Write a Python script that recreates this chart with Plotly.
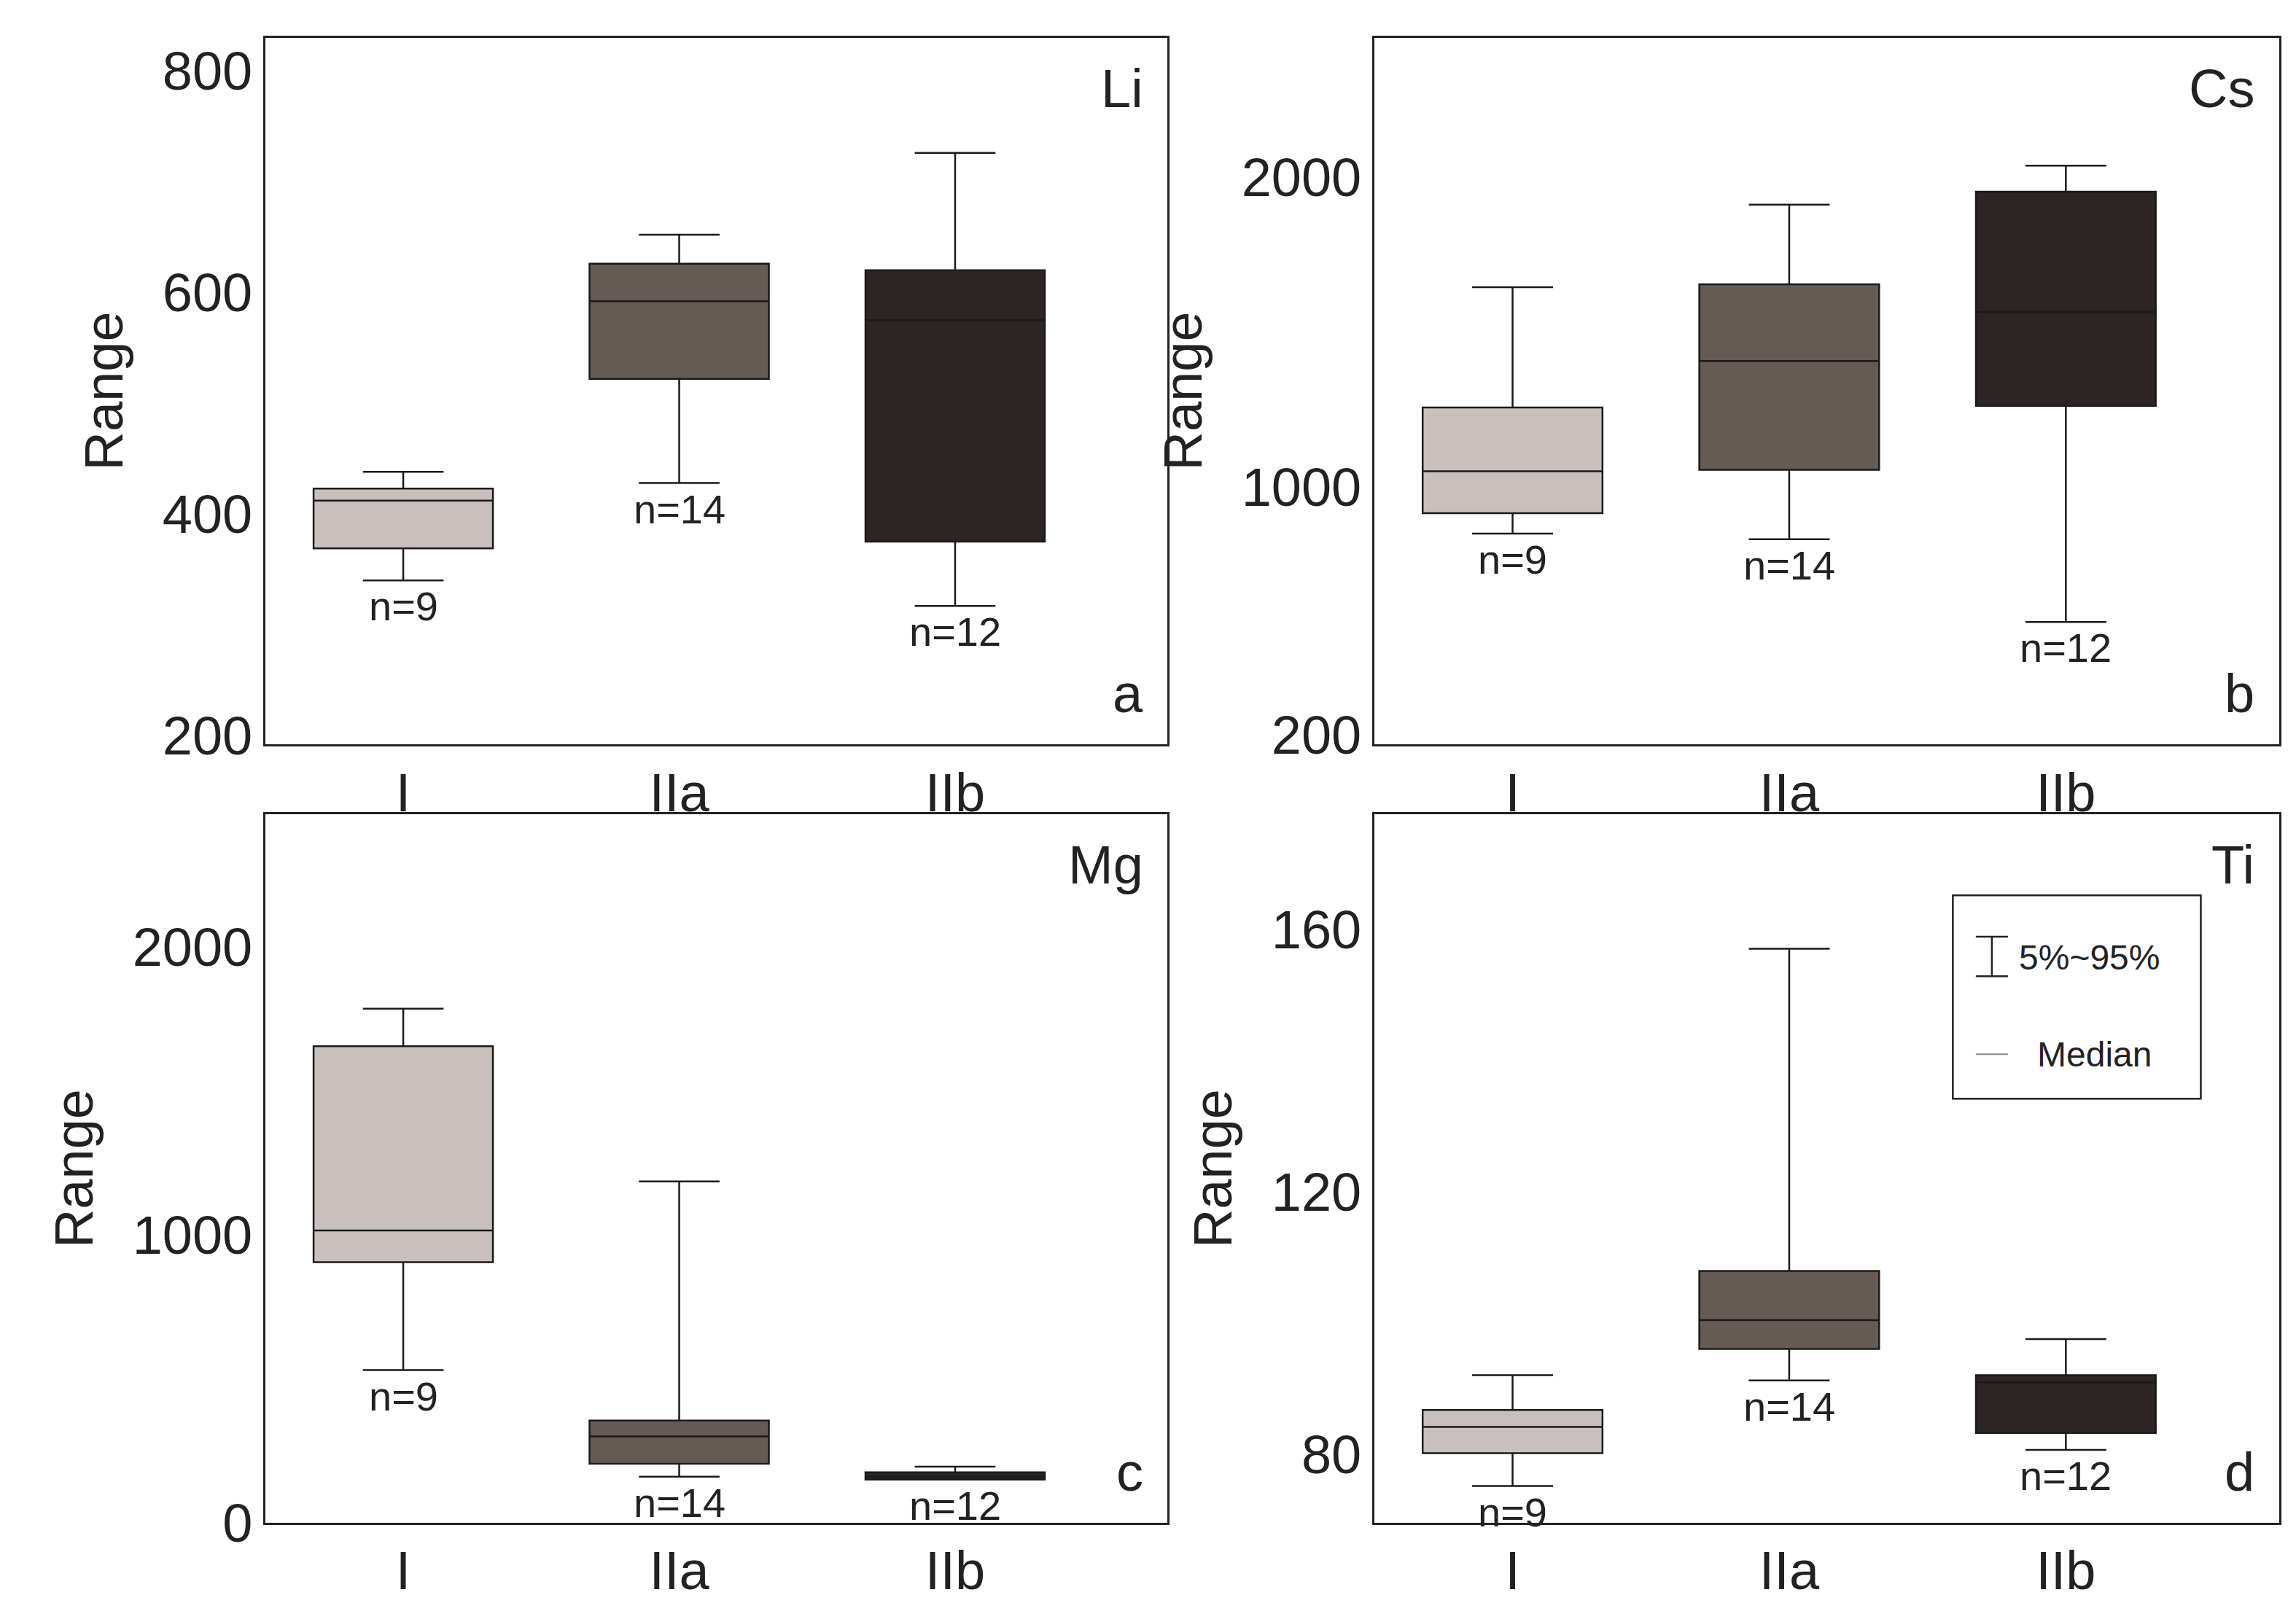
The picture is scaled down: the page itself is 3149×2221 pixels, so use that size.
import plotly.graph_objects as go

groups = ["I", "IIa", "IIb"]
counts = ["n=9", "n=14", "n=12"]
COLORS = ["#c9c0be", "#665a55", "#2d2523"]

# per panel: lower whisker, q1, median, q3, upper whisker
li_low = [340, 428, 317]
li_q1 = [369, 522, 375]
li_med = [412, 592, 575]
li_q3 = [423, 626, 620]
li_up = [438, 652, 726]

cs_low = [850, 832, 565]
cs_q1 = [916, 1056, 1262]
cs_med = [1051, 1407, 1565]
cs_q3 = [1257, 1654, 1953]
cs_up = [1645, 1911, 2037]

mg_low = [530, 160, 150]
mg_q1 = [905, 205, 150]
mg_med = [1015, 300, 160]
mg_q3 = [1655, 355, 175]
mg_up = [1785, 1185, 195]

ti_low = [75.2, 91.3, 80.7]
ti_q1 = [80.2, 96.1, 83.3]
ti_med = [84.2, 100.5, 91.0]
ti_q3 = [86.8, 108.0, 92.1]
ti_up = [92.1, 157.1, 97.6]

panels = [
    ("Li", "a", li_low, li_q1, li_med, li_q3, li_up, [192, 830], [200, 400, 600, 800]),
    ("Cs", "b", cs_low, cs_q1, cs_med, cs_q3, cs_up, [170, 2450], [200, 1000, 2000]),
    ("Mg", "c", mg_low, mg_q1, mg_med, mg_q3, mg_up, [0, 2460], [0, 1000, 2000]),
    ("Ti", "d", ti_low, ti_q1, ti_med, ti_q3, ti_up, [69.6, 177.6], [80, 120, 160]),
]

XDOM = [[0.113, 0.506], [0.596, 0.990], [0.113, 0.506], [0.596, 0.990]]
YDOM = [[0.535, 0.98], [0.535, 0.98], [0.045, 0.491], [0.045, 0.491]]
TXT = dict(size=74, color="#222")

fig = go.Figure()
ann = []
layout = {}
for i, (el, letter, lo, q1, md, q3, up, rng, tv) in enumerate(panels):
    sfx = "" if i == 0 else str(i + 1)
    for j, g in enumerate(groups):
        fig.add_trace(go.Box(
            x=[g], lowerfence=[lo[j]], q1=[q1[j]], median=[md[j]], q3=[q3[j]], upperfence=[up[j]],
            fillcolor=COLORS[j], line=dict(color="#1a1a1a", width=2.5),
            width=0.65, whiskerwidth=0.45, boxpoints=False, showlegend=False,
            xaxis="x" + sfx, yaxis="y" + sfx, hoverinfo="skip",
        ))
        ann.append(dict(x=g, y=lo[j], xref="x" + sfx, yref="y" + sfx, text=counts[j],
                        showarrow=False, yanchor="top", yshift=-2, font=dict(size=56, color="#222")))
    layout["xaxis" + sfx] = dict(domain=XDOM[i], anchor="y" + sfx, type="category",
                                 categoryorder="array", categoryarray=groups, range=[-0.5, 2.77],
                                 showline=True, mirror=True, linecolor="#222", linewidth=2.5,
                                 ticks="", showgrid=False, tickfont=TXT)
    layout["yaxis" + sfx] = dict(domain=YDOM[i], anchor="x" + sfx, range=rng, tickvals=tv,
                                 showline=True, mirror=True, linecolor="#222", linewidth=2.5,
                                 ticks="", showgrid=False, zeroline=False, tickfont=TXT,
                                 title=dict(text="Range", font=TXT, standoff=30))
    ann.append(dict(x=XDOM[i][1] - 0.01, y=YDOM[i][1] - 0.012, xref="paper", yref="paper", text=el,
                    showarrow=False, xanchor="right", yanchor="top", font=TXT))
    ann.append(dict(x=XDOM[i][1] - 0.01, y=YDOM[i][0] + 0.012, xref="paper", yref="paper", text=letter,
                    showarrow=False, xanchor="right", yanchor="bottom", font=TXT))

# legend box in panel d
shapes = [
    dict(type="rect", xref="paper", yref="paper", x0=0.848, x1=0.956, y0=0.312, y1=0.44,
         line=dict(color="#222", width=2.5)),
    dict(type="line", xref="paper", yref="paper", x0=0.865, x1=0.865, y0=0.389, y1=0.414,
         line=dict(color="#222", width=2.5)),
    dict(type="line", xref="paper", yref="paper", x0=0.858, x1=0.872, y0=0.414, y1=0.414,
         line=dict(color="#222", width=2.5)),
    dict(type="line", xref="paper", yref="paper", x0=0.858, x1=0.872, y0=0.389, y1=0.389,
         line=dict(color="#222", width=2.5)),
    dict(type="line", xref="paper", yref="paper", x0=0.858, x1=0.872, y0=0.34, y1=0.34,
         line=dict(color="#888", width=2)),
]
ann.append(dict(x=0.876, y=0.401, xref="paper", yref="paper", text="5%~95%", showarrow=False,
                xanchor="left", font=dict(size=48, color="#222")))
ann.append(dict(x=0.884, y=0.34, xref="paper", yref="paper", text="Median", showarrow=False,
                xanchor="left", font=dict(size=48, color="#222")))

fig.update_layout(
    width=3149, height=2221, margin=dict(l=0, r=0, t=0, b=0),
    paper_bgcolor="white", plot_bgcolor="white",
    font=dict(family="Arial, Liberation Sans, sans-serif", color="#222"),
    annotations=ann, shapes=shapes, **layout,
)
fig.write_html("out.html")
